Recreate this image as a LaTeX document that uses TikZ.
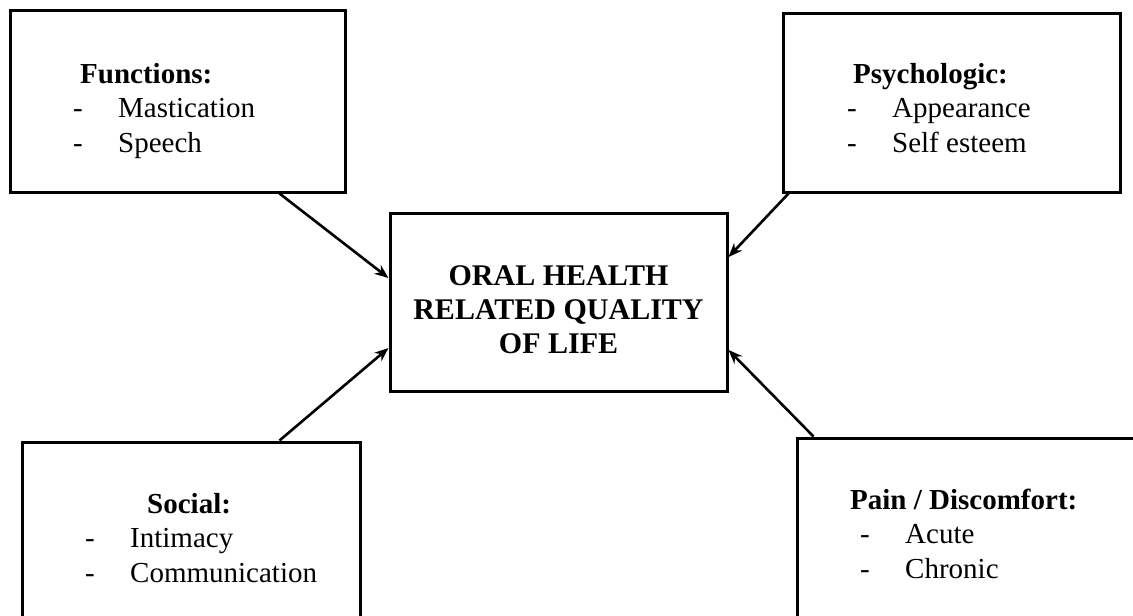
\documentclass[tikz,border=0pt]{standalone}
\usepackage{fontspec}
\setmainfont{Liberation Serif}
\usetikzlibrary{positioning,arrows.meta}
\tikzset{
box/.style={draw, rectangle, line width=3pt, inner sep=0pt},
txt/.style={align=left, inner sep=0pt, font=\fontsize{29}{34.5}\selectfont},
link/.style={line width=2.6pt, -{Stealth[length=14pt,width=11pt]}}
}
\newcommand{\itemdash}{\makebox[45pt][l]{-}}

\begin{document}
\begin{tikzpicture}[x=1pt,y=-1pt]
\clip (0,0) rectangle (1133,616);
\node[box, minimum width=335pt, minimum height=182pt] (func) at (177.5,101) {};
\node[box, minimum width=337pt, minimum height=179pt] (psych) at (951.5,102.5) {};
\node[box, minimum width=338pt, minimum height=186pt] (social) at (191,535) {};
\node[box, minimum width=346pt, minimum height=186pt] (pain) at (970,531) {};
\node[box, minimum width=337pt, minimum height=178pt] (ohrql) at (558.5,302) {};
\node[align=center, inner sep=0pt, anchor=base,
  font=\fontsize{30}{34}\selectfont\bfseries] (ohrql-txt) at (558.5,353)
  {ORAL HEALTH\\RELATED QUALITY\\OF LIFE};
\node[txt, anchor=base west] (func-txt) at (73,152)
  {\hspace*{7pt}\textbf{Functions:}\\\itemdash Mastication\\\itemdash Speech};
\node[txt, anchor=base west] (psych-txt) at (847,152)
  {\hspace*{6pt}\textbf{Psychologic:}\\\itemdash Appearance\\\itemdash Self esteem};
\node[txt, anchor=base west] (social-txt) at (85,582)
  {\hspace*{62pt}\textbf{Social:}\\\itemdash Intimacy\\\itemdash Communication};
\node[txt, anchor=base west] (pain-txt) at (850,578)
  {\textbf{Pain / Discomfort:}\\\hspace*{10pt}\itemdash Acute\\\hspace*{10pt}\itemdash Chronic};
\draw[link] ([xshift=-67pt]func.south east) -- ([yshift=24pt]ohrql.west);
\draw[link] ([xshift=7pt]psych.south west) -- ([yshift=45pt]ohrql.east);
\draw[link] ([xshift=-82pt]social.north east) -- ([yshift=-46pt]ohrql.west);
\draw[link] ([xshift=18pt]pain.north west) -- ([yshift=-48pt]ohrql.east);
\end{tikzpicture}
\end{document}
